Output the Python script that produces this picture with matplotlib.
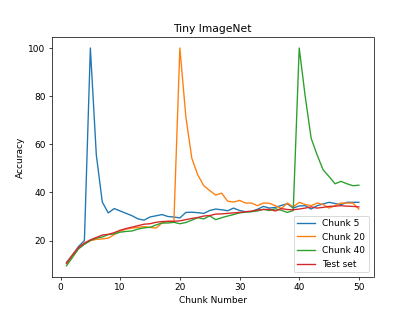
import numpy as np
import matplotlib
matplotlib.use("Agg")
import matplotlib.pyplot as plt

chunks = list(range(1, 51))

chunk_5 = [11, 14, 17.5, 20, 100, 55.5, 36, 31.5, 33.3, 32.3,
           31.3, 30.3, 29, 28.5, 29.8, 30.3, 30.8, 30, 29.8, 29.4,
           31.7, 31.8, 31.6, 31.3, 32.5, 33.1, 32.8, 32.4, 33.5, 32.5,
           32, 32.1, 33, 34.2, 33.5, 33.8, 34.6, 35.3, 33.5, 34.4,
           34.5, 33.1, 34.5, 35.2, 35.9, 35.4, 34.9, 35.9, 35.9, 35.9]

chunk_20 = [10.5, 14, 17, 18.5, 20, 20.5, 20.7, 21, 22.5, 23.9,
            24.8, 25.2, 25.5, 25.8, 25.5, 25.2, 27.3, 28, 28, 100,
            71.5, 54.2, 47.3, 42.8, 40.8, 38.9, 39.7, 36.4, 36, 36.7,
            35.6, 35.6, 34.5, 35.6, 35.5, 34.5, 33.3, 35.6, 34, 35.9,
            35, 34.5, 35.6, 35, 33.5, 34.5, 35.6, 35.6, 35.6, 33.1]

chunk_40 = [9.5, 13, 16.5, 18.5, 20, 21, 21.5, 22.5, 22.8, 23.5,
            23.8, 24, 24.8, 25.3, 25.5, 26.5, 27.3, 27.3, 27.6, 27,
            27.5, 28.5, 29.5, 29, 30.3, 28.7, 29.5, 30.2, 30.8, 31.5,
            31.8, 32, 32.3, 33, 32.5, 33.2, 32.6, 31.7, 32.5, 100,
            80, 62.5, 55.6, 49.4, 46.6, 43.6, 44.6, 43.6, 42.8, 43]

test_set = [10.5, 14, 17, 19, 20.3, 21.3, 22.3, 22.6, 23.3, 24.3,
            25, 25.6, 26.2, 26.8, 27, 27.6, 27.9, 28, 28, 28.2,
            28.7, 29.2, 29.6, 30.2, 30.4, 31, 31.1, 31.3, 31.5, 31.7,
            32, 32.2, 32.7, 32.9, 33, 32.3, 33.3, 32.9, 32.8, 33.1,
            33.5, 34, 33.5, 33.8, 34.2, 34.3, 34.5, 34.3, 34.2, 34]

plt.figure(figsize=(6.4, 4.8))
plt.plot(chunks, chunk_5, label="Chunk 5")
plt.plot(chunks, chunk_20, label="Chunk 20")
plt.plot(chunks, chunk_40, label="Chunk 40")
plt.plot(chunks, test_set, label="Test set")

plt.title("Tiny ImageNet")
plt.xlabel("Chunk Number")
plt.ylabel("Accuracy")
plt.legend(loc="lower right")

plt.savefig("out.png", dpi=415 / 6.4)
